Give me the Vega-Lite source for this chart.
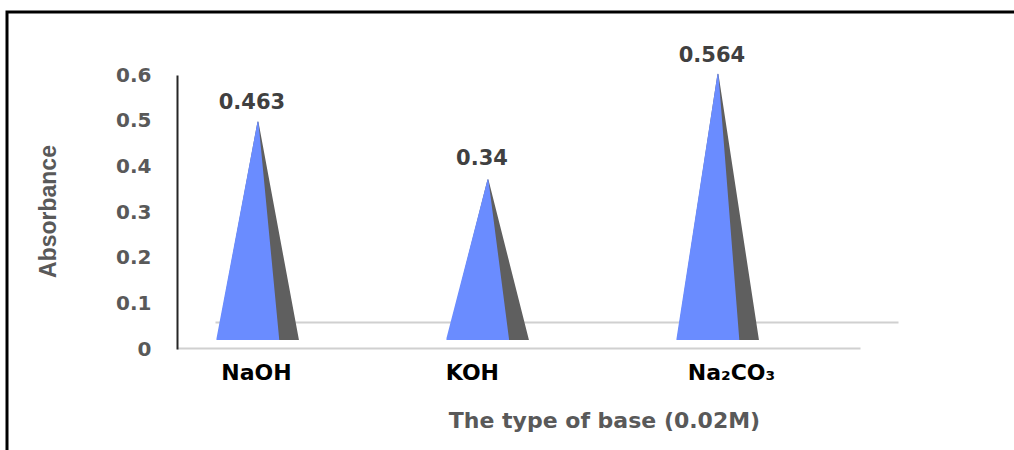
{
  "$schema": "https://vega.github.io/schema/vega-lite/v6.json",
  "width": 1010,
  "height": 441,
  "autosize": {"type": "none"},
  "padding": {"left": 7, "top": 12, "right": -3, "bottom": -3},
  "background": "white",
  "config": {"view": {"stroke": "#000000", "strokeWidth": 3}, "font": "DejaVu Sans"},
  "data": {"values": [
    {"base": "NaOH", "absorbance": 0.463, "floor": 0},
    {"base": "KOH", "absorbance": 0.34, "floor": 0},
    {"base": "Na₂CO₃", "absorbance": 0.564, "floor": 0}
  ]},
  "layer": [
    {
      "transform": [{"fold": ["absorbance", "floor"], "as": ["end", "level"]}],
      "encoding": {
        "x": {
          "field": "base", "type": "nominal", "sort": ["NaOH", "KOH", "Na₂CO₃"],
          "scale": {"type": "point", "domain": ["NaOH", "KOH", "Na₂CO₃"], "range": [170, 853], "padding": 0.4848, "align": 0.363},
          "axis": {"orient": "bottom", "offset": -131, "position": 38, "labels": false, "ticks": false, "title": null, "grid": false, "domainColor": "#d0d0d0", "domainWidth": 2}
        },
        "y": {"field": "level", "type": "quantitative", "scale": {"domain": [0, 0.6], "range": [328, 45.4], "nice": false, "zero": true}, "axis": null},
        "detail": {"field": "base"}
      },
      "layer": [
        {
          "mark": {"type": "trail", "color": "#5f5f5f"},
          "encoding": {"size": {"field": "end", "type": "ordinal", "scale": {"domain": ["absorbance", "floor"], "range": [0, 82]}, "legend": null}}
        },
        {
          "mark": {"type": "trail", "color": "#6a8cff"},
          "encoding": {
            "size": {"field": "end", "type": "ordinal", "scale": {"domain": ["absorbance", "floor"], "range": [0, 63]}, "legend": null},
            "xOffset": {"field": "end", "type": "nominal", "scale": {"type": "point", "domain": ["absorbance", "floor"], "range": [0, -10], "padding": 0}}
          }
        },
        {
          "mark": {"type": "bar", "color": "#ffffff", "width": 92},
          "encoding": {"y": {"datum": 0}, "y2": {"datum": -0.1}}
        }
      ],
      "resolve": {"scale": {"size": "independent"}}
    },
    {
      "mark": {"type": "text", "font": "DejaVu Sans", "fontWeight": "bold", "fontSize": 21, "color": "#404040", "baseline": "middle", "dy": -35, "dx": -6},
      "encoding": {
        "x": {
          "field": "base", "type": "nominal", "sort": ["NaOH", "KOH", "Na₂CO₃"],
          "scale": {"type": "point", "domain": ["NaOH", "KOH", "Na₂CO₃"], "range": [170, 853], "padding": 0.4848, "align": 0.363},
          "axis": {
            "orient": "bottom", "offset": -105, "grid": false, "ticks": false, "tickSize": 0, "zindex": 1,
            "domainColor": "#d0d0d0", "domainWidth": 2,
            "labelFont": "DejaVu Sans", "labelFontWeight": "bold", "labelFontSize": 22, "labelColor": "#000000", "labelPadding": 14, "labelAngle": 0,
            "labelOffset": {"condition": [{"test": "datum.value === 'KOH'", "value": -16}, {"test": "datum.value === 'Na₂CO₃'", "value": 13}], "value": -2},
            "title": "The type of base (0.02M)", "titleFont": "DejaVu Sans", "titleFontWeight": "bold", "titleFontSize": 22, "titleColor": "#595959",
            "titleX": 597, "titleY": 72, "titleAlign": "center", "titleBaseline": "middle"
          }
        },
        "y": {
          "field": "absorbance", "type": "quantitative",
          "scale": {"domain": [0, 0.6], "range": [337, 63], "nice": false, "zero": true},
          "axis": {
            "orient": "left", "offset": -170, "values": [0, 0.1, 0.2, 0.3, 0.4, 0.5, 0.6], "format": "~g", "zindex": 1,
            "grid": false, "ticks": false, "tickSize": 0, "domainColor": "#262626", "domainWidth": 2,
            "labelFont": "DejaVu Sans", "labelFontWeight": "bold", "labelFontSize": 20, "labelColor": "#595959", "labelPadding": 26, "labelBaseline": "middle", "labelOverlap": false,
            "title": "Absorbance", "titleFont": "Liberation Sans", "titleFontWeight": "bold", "titleFontSize": 23, "titleColor": "#595959",
            "titleX": -129, "titleY": 199, "titleAngle": 270, "titleAlign": "center", "titleBaseline": "middle"
          }
        },
        "text": {"field": "absorbance", "type": "quantitative", "format": "~g"}
      }
    }
  ],
  "resolve": {"scale": {"y": "independent"}, "axis": {"x": "independent", "y": "independent"}}
}
